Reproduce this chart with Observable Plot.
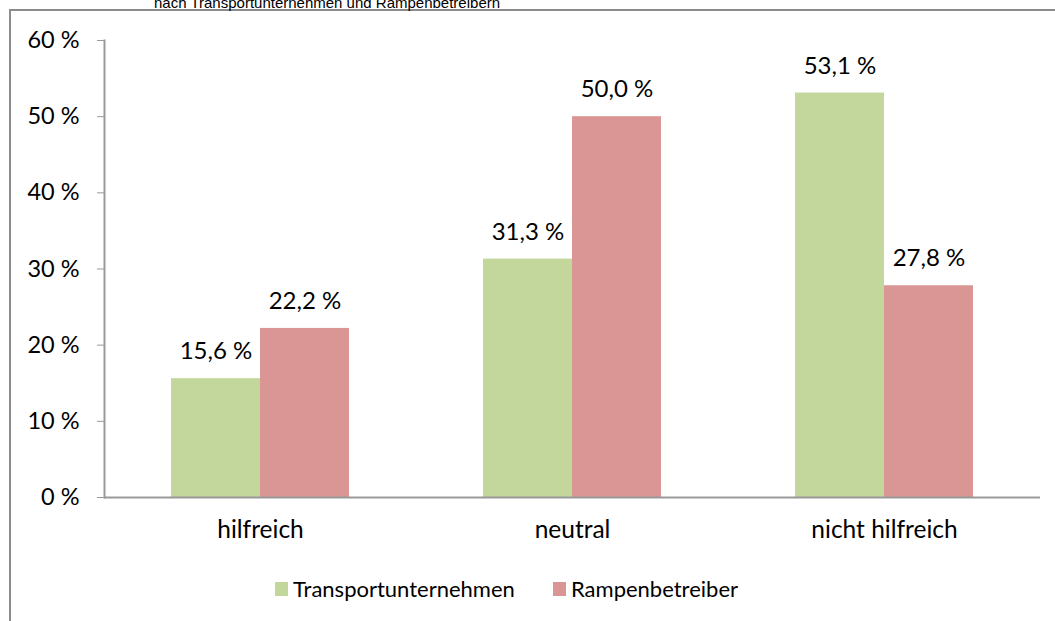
<!DOCTYPE html>
<html>
<head>
<meta charset="utf-8">
<script src="https://cdn.jsdelivr.net/npm/d3@7"></script>
<script src="https://cdn.jsdelivr.net/npm/@observablehq/plot@0.6"></script>
<style>
  html, body { margin: 0; padding: 0; background: #fff; overflow: hidden; }
  #wrap { position: relative; width: 1055px; height: 621px; overflow: hidden; }
  #frame { position: absolute; left: 9px; top: 9px; width: 2000px; height: 2000px;
           border-left: 2px solid #8c8c8c; border-top: 2px solid #8c8c8c; box-sizing: border-box; }
  #title { position: absolute; left: 154px; top: -5px; font-family: "Liberation Sans", Arial, sans-serif;
           font-size: 15px; line-height: 15px; color: #000; white-space: nowrap; }
  #chart { position: absolute; left: 0; top: 0; }
  .legend { position: absolute; top: 575px; font-family: Lato, sans-serif; font-size: 22px; color: #000;
            display: flex; align-items: center; white-space: nowrap; }
  .legend .sw { width: 13px; height: 14px; margin-right: 5px; display: inline-block; }
</style>
</head>
<body>
<div id="wrap">
  <div id="frame"></div>
  <div id="title">nach Transportunternehmen und Rampenbetreibern</div>
  <div id="chart"></div>
</div>
<script>
const categories = ["hilfreich", "neutral", "nicht hilfreich"];
const seriesNames = ["Transportunternehmen", "Rampenbetreiber"];
const transportValues = [15.6, 31.3, 53.1];
const rampeValues = [22.2, 50.0, 27.8];
const yTicks = [0, 10, 20, 30, 40, 50, 60];
const seriesColors = ["#C3D69B", "#D99694"];

const fmt = v => v.toFixed(1).replace(".", ",") + " %";

const transportData = categories.map((c, i) => ({category: c, series: seriesNames[0], value: transportValues[i]}));
const rampeData = categories.map((c, i) => ({category: c, series: seriesNames[1], value: rampeValues[i]}));

const half = 89;

const chart = Plot.plot({
  width: 1055,
  height: 560,
  marginLeft: 104,
  marginRight: 15,
  marginTop: 40,
  marginBottom: 63,
  style: {fontFamily: "Lato, sans-serif", fontSize: "21px", color: "#000", background: "transparent", overflow: "visible"},
  x: {domain: categories, paddingInner: 0.4295, paddingOuter: 0.2147, label: null},
  y: {domain: [0, 60], label: null},
  color: {domain: seriesNames, range: seriesColors},
  marks: [
    Plot.barY(transportData, {x: "category", y: "value", fill: "series", insetRight: half}),
    Plot.barY(rampeData, {x: "category", y: "value", fill: "series", insetLeft: half}),
    Plot.text(transportData, {x: "category", y: "value", text: d => fmt(d.value), dx: -half / 2, dy: -27, lineAnchor: "middle", fill: "#000", fontSize: 24}),
    Plot.text(rampeData, {x: "category", y: "value", text: d => fmt(d.value), dx: half / 2, dy: -27, lineAnchor: "middle", fill: "#000", fontSize: 24}),
    Plot.axisY({ticks: yTicks, tickFormat: d => d + " %", tickSize: 7, tickPadding: 18, label: null, stroke: "#999", fill: "#000", fontSize: 23.5}),
    Plot.axisX({tickSize: 0, tickPadding: 23, label: null, fill: "#000", fontSize: 24.5}),
    Plot.frame({anchor: "left", stroke: "#999", strokeWidth: 2}),
    Plot.ruleY([0], {stroke: "#999", strokeWidth: 2})
  ]
});
document.getElementById("chart").appendChild(chart);

const wrap = document.getElementById("wrap");
const legendLefts = [275, 553];
seriesNames.forEach((s, i) => {
  const item = document.createElement("div");
  item.className = "legend";
  item.style.left = legendLefts[i] + "px";
  const sw = document.createElement("span");
  sw.className = "sw";
  sw.style.background = seriesColors[i];
  const label = document.createElement("span");
  label.textContent = s;
  item.appendChild(sw);
  item.appendChild(label);
  wrap.appendChild(item);
});
</script>
</body>
</html>
